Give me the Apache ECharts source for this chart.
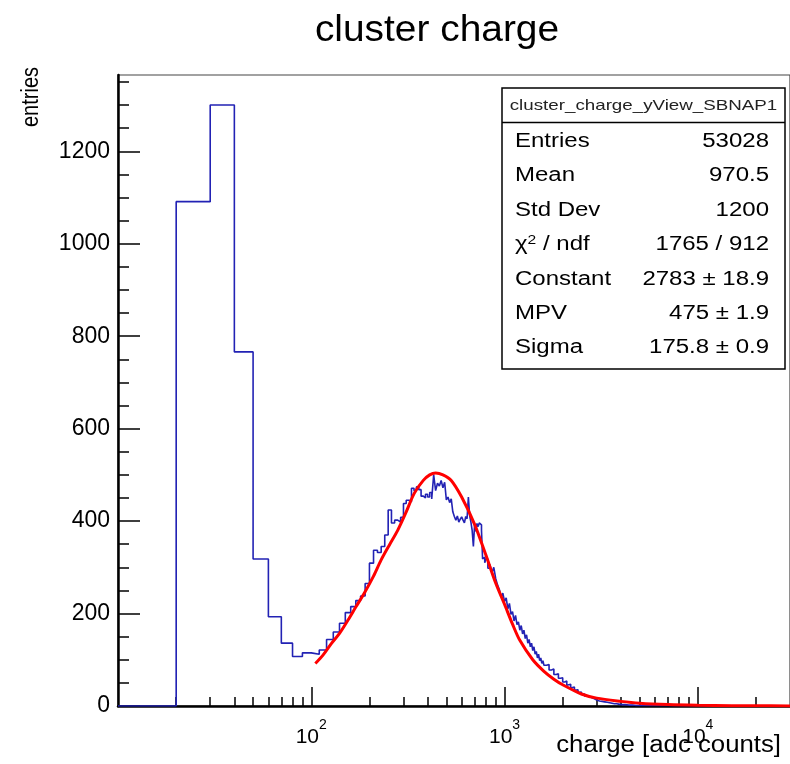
<!DOCTYPE html>
<html><head><meta charset="utf-8">
<script src="https://cdn.jsdelivr.net/npm/echarts@6/dist/echarts.min.js"></script>
<style>html,body{margin:0;padding:0;background:#fff}#c{width:790px;height:764px}</style>
</head><body><div id="c"></div>
<script>
// ---- data ----
// histogram bin segments: [from, to, width]
const binSegments = [[10,800,10],[800,1600,20],[1600,3000,50],[3000,4000,100],[4000,5000,200],[5000,6000,1000],[6000,30000,24000]];
const binCounts = [
  0,1091,1300,766,318,193,136,107,115,112,
  121,144,160,179,202,215,228,238,265,309,
  337,332,345,370,424,396,402,398,408,438,
  445,442,471,466,474,468,454,450,458,452,
  462,448,500,466,482,476,488,472,484,446,
  452,440,448,420,410,402,411,398,404,409,
  402,396,410,405,452,412,398,380,345,392,
  378,395,388,396,392,380,318,322,310,
  318,298,306,288,300,276,262,252,236,244,
  226,234,210,222,198,204,184,196,176,182,
  164,174,156,164,146,154,136,144,128,136,
  120,128,112,118,104,112,98,104,92,98,
  88,90,78,80,68,70,60,61,52,54,
  45,47,39,41,34,35,29,30,25,26,
  21,22,18,19,15,16,13,13,
  11,10,9,8,7,6,5,5,4,3,
  3,2,2,1,1,
  1,
  0
];
const fitX = [105,115,127,140,155,170,188,210,230,255,280,310,341,380,410,440,480,530,600,700,800,900,1000,1100,1200,1400,1600,1800,2000,2500,3000,4000,5000,7000,10000,15000,20000,30000];
const fitY = [92,110,135,157,186,214,244,281,316,350,380,420,460,488,500,504,500,488,452,393,327,266,220,177,142,100,75,58,46,26,17,10,6,3,1.5,0.7,0.4,0.2];
const xMajorTicks = [100,1000,10000];
const xMinorTicks = [20,30,40,50,60,70,80,90,200,300,400,500,600,700,800,900,2000,3000,4000,5000,6000,7000,8000,9000,20000];
const yMajorTicks = [0,200,400,600,800,1000,1200];
const yMinorTicks = [50,100,150,250,300,350,450,500,550,650,700,750,850,900,950,1050,1100,1150,1250,1300,1350];
const statsTitle = 'cluster_charge_yView_SBNAP1';
const statsLabels = ['Entries','Mean','Std Dev','χ{sup|2} / ndf','Constant','MPV','Sigma'];
const statsValues = ['53028','970.5','1200','1765 / 912','2783 ± 18.9','475 ± 1.9','175.8 ± 0.9'];
const titleText = 'cluster charge';
const xTitle = 'charge [adc counts]';
const yTitle = 'entries';

// ---- build ----
const edges = [];
binSegments.forEach(([a,b,w]) => { for (let v = a; v < b; v += w) edges.push(v); });
edges.push(30000);
const histData = [];
for (let i = 0; i < binCounts.length; i++) histData.push([edges[i], binCounts[i]]);
histData.push([edges[binCounts.length], binCounts[binCounts.length-1]]);
const fitData = fitX.map((x,i)=>[x, fitY[i]]);

const FONT = '"Liberation Sans", Arial, Helvetica, sans-serif';
const chart = echarts.init(document.getElementById('c'), null, {renderer:'canvas'});

const statsChildren = [
  {type:'rect', shape:{x:502,y:88,width:283,height:281}, style:{fill:'#fff', stroke:'#000', lineWidth:1.5}},
  {type:'line', shape:{x1:502,y1:122.5,x2:785,y2:122.5}, style:{stroke:'#000', lineWidth:1.5}},
  {type:'text', x:643.5, y:106, scaleX:1.25, style:{text:statsTitle, font:'15px '+FONT, fill:'#222', align:'center', verticalAlign:'middle'}}
];
statsLabels.forEach((l,i)=>{
  const y = 141.5 + i*34.4;
  statsChildren.push({type:'text', x:515, y:y, scaleX:1.2, style:{text:l, font:'20px '+FONT, fill:'#000', align:'left', verticalAlign:'middle',
    rich:{sup:{fontSize:13, fontFamily:FONT, verticalAlign:'top', padding:[0,0,8,0]}}}});
  statsChildren.push({type:'text', x:769, y:y, scaleX:1.2, style:{text:statsValues[i], font:'20px '+FONT, fill:'#000', align:'right', verticalAlign:'middle'}});
});

const option = {
  animation:false,
  backgroundColor:'#fff',
  grid:{left:118, top:75, right:0, bottom:58, show:true, borderColor:'#444', borderWidth:1.2, backgroundColor:'transparent'},
  xAxis:[
    {type:'log', logBase:10, min:10, max:30000, position:'bottom',
     axisLine:{show:true, lineStyle:{color:'#000', width:2.5}},
     axisTick:{show:true, inside:true, length:19, customValues:xMajorTicks, lineStyle:{color:'#000', width:1.5}},
     axisLabel:{show:true, customValues:xMajorTicks, margin:12,
       formatter:(v)=>'{b|10}{s|'+Math.round(Math.log10(v))+'}',
       rich:{b:{fontSize:21, fontFamily:FONT, color:'#000', lineHeight:30, verticalAlign:'bottom'},
             s:{fontSize:14, fontFamily:FONT, color:'#000', lineHeight:30, verticalAlign:'top'}}},
     splitLine:{show:false}, minorTick:{show:false}},
    {type:'log', logBase:10, min:10, max:30000, position:'bottom', gridIndex:0,
     axisLine:{show:false},
     axisTick:{show:true, inside:true, length:9, customValues:xMinorTicks, lineStyle:{color:'#000', width:1.5}},
     axisLabel:{show:false}, splitLine:{show:false}}
  ],
  yAxis:[
    {type:'value', min:0, max:1365, position:'left',
     axisLine:{show:true, lineStyle:{color:'#000', width:2.5}},
     axisTick:{show:true, inside:true, length:22, customValues:yMajorTicks, lineStyle:{color:'#000', width:1.5}},
     axisLabel:{show:true, customValues:yMajorTicks, margin:8, fontSize:23, fontFamily:FONT, color:'#000', formatter:(v)=>String(v)},
     splitLine:{show:false}},
    {type:'value', min:0, max:1365, position:'left', gridIndex:0,
     axisLine:{show:false},
     axisTick:{show:true, inside:true, length:11, customValues:yMinorTicks, lineStyle:{color:'#000', width:1.5}},
     axisLabel:{show:false}, splitLine:{show:false}}
  ],
  series:[
    {type:'line', name:'hist', xAxisIndex:0, yAxisIndex:0, data:histData, step:'end', showSymbol:false,
     lineStyle:{color:'#2222b4', width:1.6}, z:3},
    {type:'line', name:'fit', xAxisIndex:0, yAxisIndex:0, data:fitData, smooth:0.3, showSymbol:false,
     lineStyle:{color:'#ff0000', width:3}, z:4}
  ],
  graphic:[
    {type:'text', x:437, y:31, scaleX:1.08, style:{text:titleText, font:'36px '+FONT, fill:'#000', align:'center', verticalAlign:'middle'}},
    {type:'text', x:781, y:746, scaleX:1.12, style:{text:xTitle, font:'23px '+FONT, fill:'#000', align:'right', verticalAlign:'middle'}},
    {type:'text', x:32, y:97, rotation:Math.PI/2, scaleY:1.15, style:{text:yTitle, font:'20px '+FONT, fill:'#000', align:'center', verticalAlign:'middle'}},
    {type:'group', children:statsChildren}
  ]
};
chart.setOption(option);
</script>
</body></html>
